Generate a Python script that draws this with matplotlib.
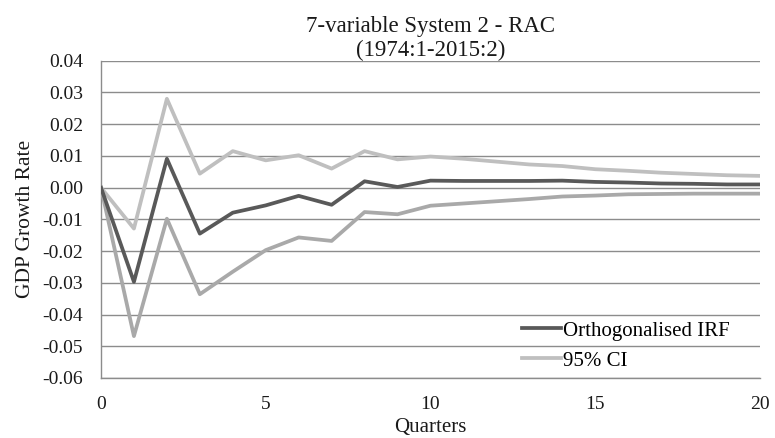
import numpy as np
import matplotlib
matplotlib.use("Agg")
import matplotlib.pyplot as plt

quarters = list(range(21))
irf = [0.0, -0.0297, 0.0091, -0.0145, -0.0079, -0.0056, -0.0026, -0.0054, 0.0020, 0.0002,
       0.0022, 0.0021, 0.0021, 0.0021, 0.0022, 0.0018, 0.0016, 0.0013, 0.0012, 0.0010, 0.0010]
ci_upper = [0.0, -0.0129, 0.0280, 0.0044, 0.0115, 0.0086, 0.0102, 0.0060, 0.0115, 0.0089,
            0.0098, 0.0091, 0.0082, 0.0073, 0.0068, 0.0058, 0.0053, 0.0047, 0.0043, 0.0039, 0.0037]
ci_lower = [0.0, -0.0468, -0.0098, -0.0336, -0.0265, -0.0197, -0.0157, -0.0168, -0.0077, -0.0084,
            -0.0057, -0.0050, -0.0043, -0.0036, -0.0028, -0.0025, -0.0021, -0.0020, -0.0019, -0.0019, -0.0019]
y_ticks = [-0.06, -0.05, -0.04, -0.03, -0.02, -0.01, 0.0, 0.01, 0.02, 0.03, 0.04]

plt.rcParams['font.family'] = ['Liberation Serif', 'DejaVu Serif']

fig = plt.figure(figsize=(7.75, 4.38), dpi=100)
ax = fig.add_axes([0.1303, 0.137, 0.8503, 0.7244])

grid_col = '#8c8c8c'
txt_col = '#1a1a1a'
ax.plot(quarters, irf, color='#595959', linewidth=2.7, label='Orthogonalised IRF', zorder=4)
ax.plot(quarters, ci_upper, color='#bfbfbf', linewidth=2.7, label='95% CI', zorder=3)
ax.plot(quarters, ci_lower, color='#a9a9a9', linewidth=2.7, label='_nolegend_', zorder=3)

ax.set_xlim(0, 20)
ax.set_ylim(-0.06, 0.04)
ax.set_xticks([0, 5, 10, 15, 20])
ax.set_yticks(y_ticks)
ax.set_yticklabels(['%.2f' % v for v in y_ticks])
ax.yaxis.grid(True, color=grid_col, linewidth=1.0)
ax.set_axisbelow(True)
for s in ['top', 'right']:
    ax.spines[s].set_visible(False)
for s in ['left', 'bottom']:
    ax.spines[s].set_color(grid_col)
    ax.spines[s].set_linewidth(1.0)
ax.tick_params(length=0, labelsize=14, colors=txt_col)
ax.tick_params(axis='y', pad=13)
ax.tick_params(axis='x', pad=13)

ax.set_title('7-variable System 2 - RAC\n(1974:1-2015:2)', fontsize=16.5, linespacing=1.13,
             pad=1, color=txt_col)
ax.set_xlabel('Quarters', fontsize=15, labelpad=3.5, color=txt_col)
ax.set_ylabel('GDP Growth Rate', fontsize=15.5, labelpad=5, color=txt_col)

ax.legend(loc='center left', bbox_to_anchor=(0.639, 0.101), frameon=False, fontsize=15,
          handlelength=1.85, handletextpad=0.1, labelspacing=0.5, borderpad=0,
          borderaxespad=0)

fig.savefig('out.png', dpi=100, facecolor='white')
